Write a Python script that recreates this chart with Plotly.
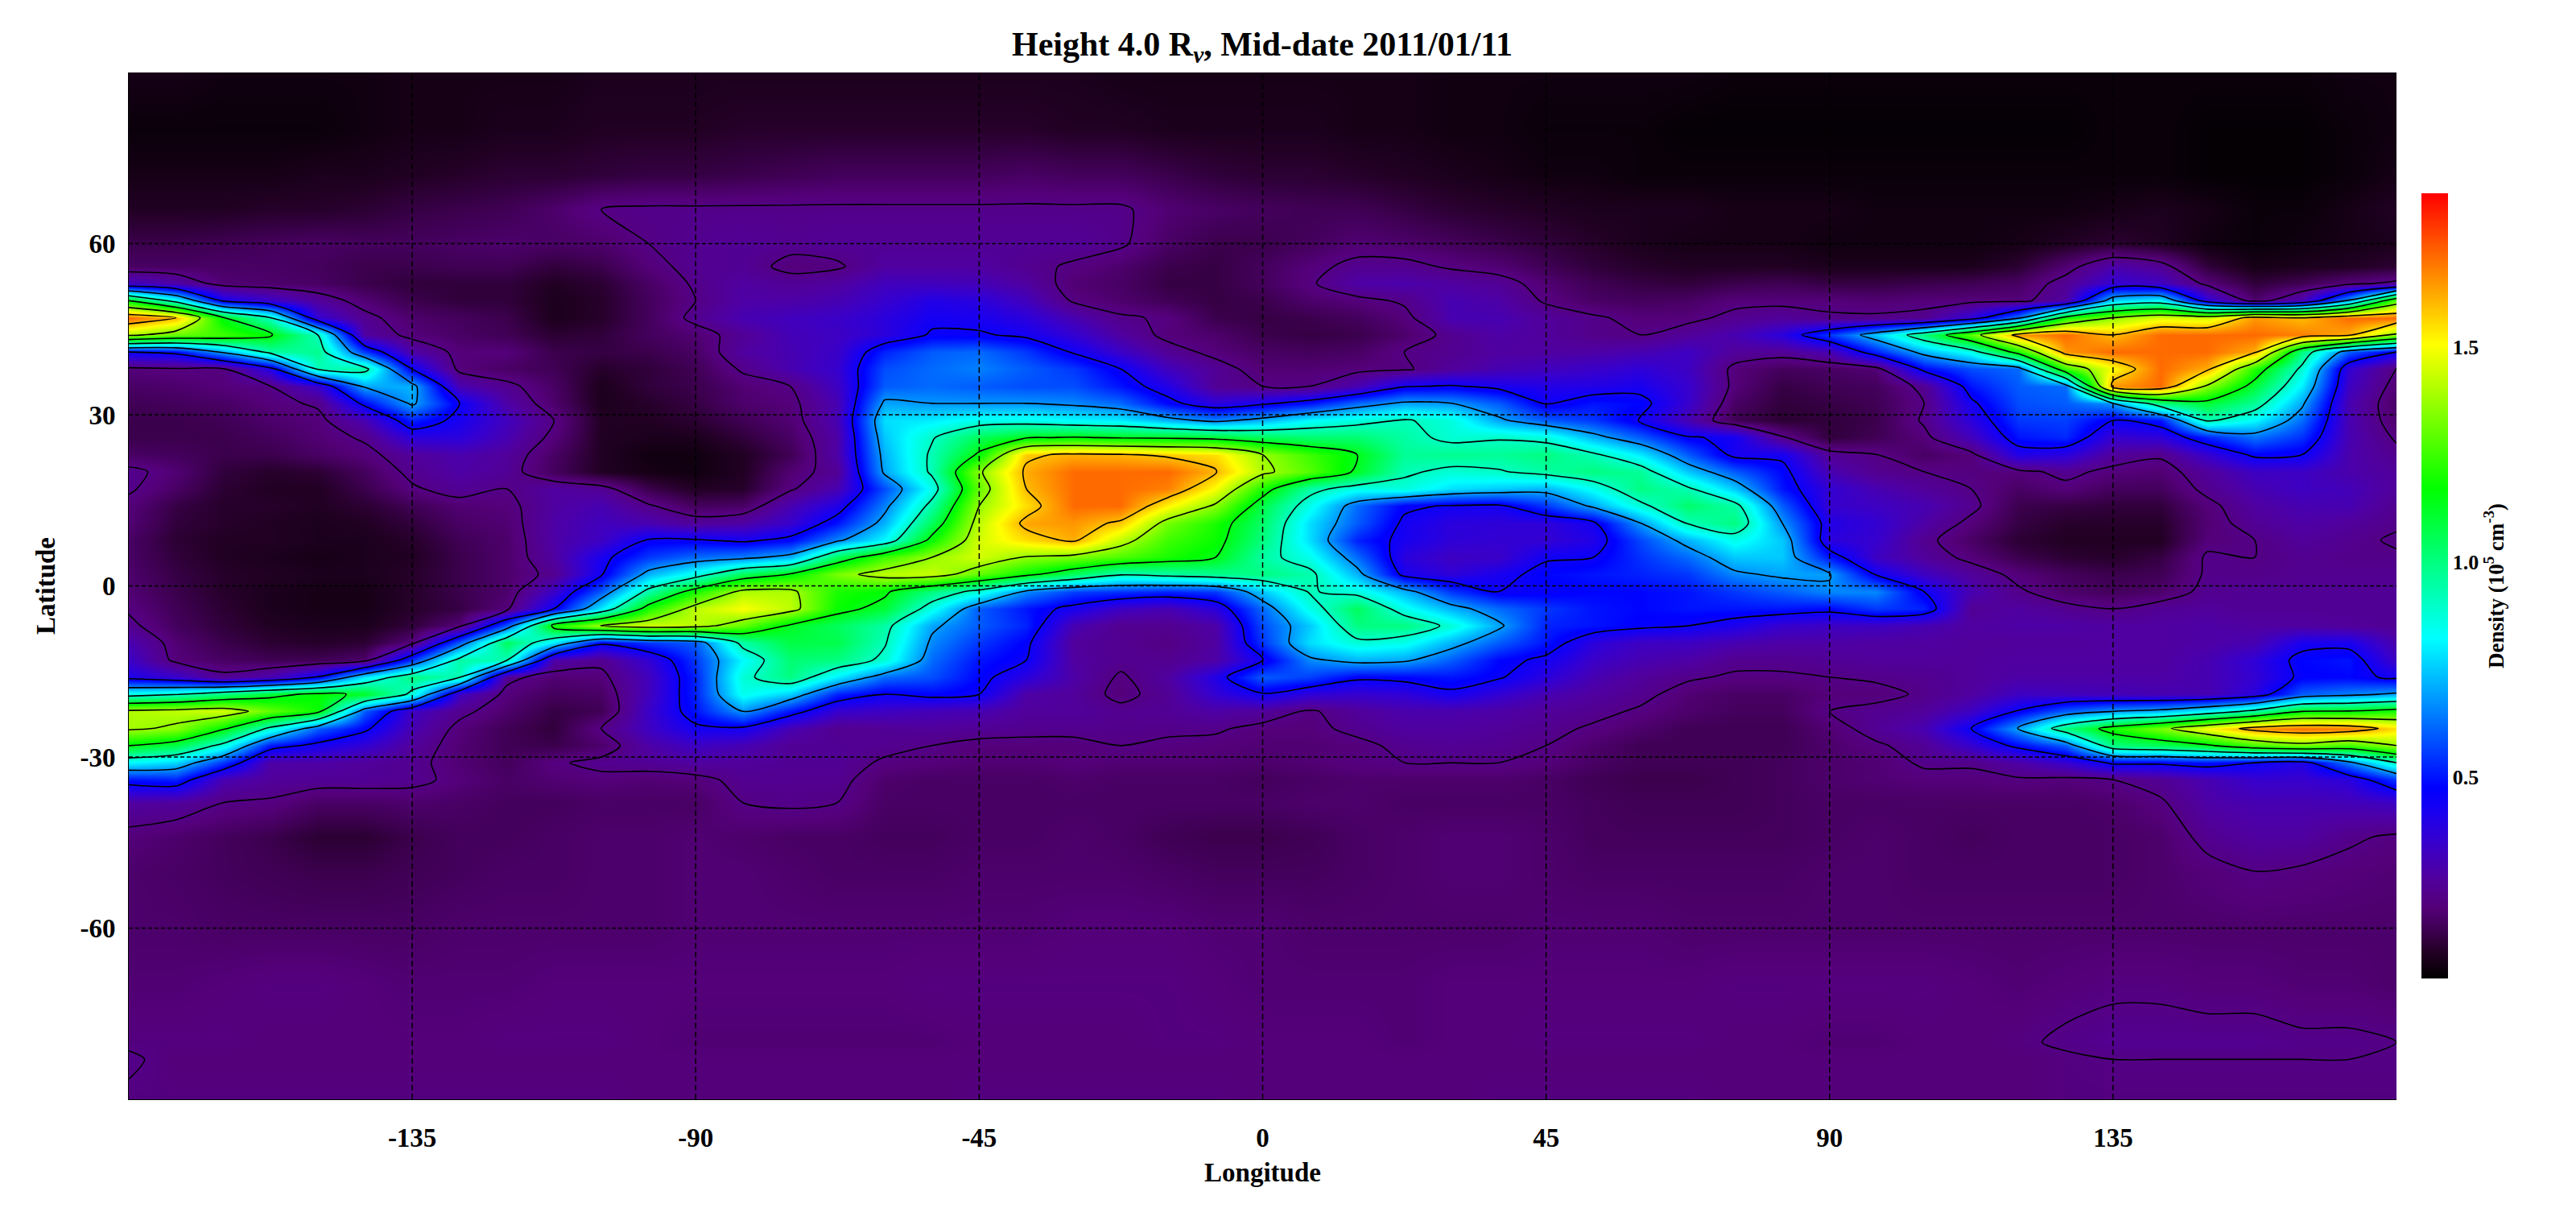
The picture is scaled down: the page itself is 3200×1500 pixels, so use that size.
import plotly.graph_objects as go

# Longitudes of the map columns (deg), latitudes of the map rows (deg)
longitudes = [-180,-172.5,-165,-157.5,-150,-142.5,-135,-127.5,-120,-112.5,-105,-97.5,-90,-82.5,-75,-67.5,
              -60,-52.5,-45,-37.5,-30,-22.5,-15,-7.5,0,7.5,15,22.5,30,37.5,45,52.5,
              60,67.5,75,82.5,90,97.5,105,112.5,120,127.5,135,142.5,150,157.5,165,172.5,180]
latitudes = [90,80,72,66,60,56,53,50,47,44,41,38,35,32,29,26,23,20,17,14,11,8,5,2,-1,-4,-7,-10,-13,-16,
             -19,-22,-25,-28,-31,-34,-38,-44,-50,-60,-70,-80,-83,-90]

# Density in units of 0.01 x 10^5 cm^-3, one list per latitude
lat_p90 = [7,7,6,6,6,6,7,7, 7,7,8,8,8,8,8,8, 8,8,8,8,8,7,7,7, 7,7,7,7,6,6,6,6, 6,6,5,5,5,5,5,5, 5,5,5,5,5,5,5,6, 6]
lat_p80 = [5,5,5,5,5,6,7,7, 8,8,9,9,9,10,10,10, 10,10,10,10,9,9,8,8, 8,8,7,7,6,6,5,5, 5,4,4,4,4,4,4,4, 4,4,5,5,4,4,4,5, 6]
lat_p72 = [7,7,7,7,8,8,9,10, 11,11,12,13,13,14,15,16, 16,16,16,17,16,16,14,12, 11,11,10,9,8,7,6,6, 5,5,5,5,5,5,5,5, 5,5,5,5,4,4,4,5, 7]
lat_p66 = [9,9,9,10,10,11,13,14, 15,18,22,23,23,23,23,23, 23,23,23,23,23,23,19,17, 16,15,15,13,11,10,9,8, 8,8,7,7,7,6,6,6, 6,6,7,8,7,5,5,7, 9]
lat_p60 = [14,14,15,16,17,16,16,17, 18,17,18,22,24,25,24,25, 25,25,25,25,25,23,17,14, 14,16,19,18,16,14,12,10, 8,7,7,7,6,6,6,6, 7,9,11,9,6,5,6,7, 8]
lat_p56 = [17,17,17,17,16,14,14,15, 15,12,14,20,24,25,20,21, 27,27,27,24,21,18,14,13, 16,20,24,24,21,19,15,12, 10,9,9,9,8,8,8,8, 11,19,29,25,12,7,8,9, 11]
lat_p53 = [33,28,19,18,17,14,12,12, 12,9,11,17,23,27,25,27, 32,32,31,27,19,17,13,13, 16,21,28,29,27,25,19,15, 13,12,14,15,13,13,14,15, 17,25,36,33,20,12,15,20, 24]
lat_p50 = [114,85,43,34,26,19,14,12, 12,8,10,16,22,28,28,30, 35,40,38,32,21,18,15,13, 14,18,20,23,30,28,21,17, 16,17,20,20,20,19,20,20, 20,27,76,82,38,18,30,70, 128]
lat_p47 = [171,160,115,91,36,24,18,16, 14,8,10,16,24,30,32,34, 38,43,42,38,30,23,21,14, 13,14,16,20,30,30,26,23, 20,20,24,26,23,23,24,38, 65,120,137,147,145,165,160,171, 171]
lat_p44 = [140,130,125,116,91,27,20,17, 15,11,12,16,19,25,31,33, 38,46,46,43,36,27,20,18, 14,13,14,18,24,28,26,23, 22,26,30,38,55,75,100,130, 165,171,160,171,171,171,168,162, 135]
lat_p41 = [45,48,70,95,98,55,28,20, 20,14,13,14,17,27,30,34, 52,60,62,55,44,34,25,20, 17,16,17,22,24,27,27,28, 30,33,26,25,30,52,72,85, 120,165,171,171,171,162,100,60, 45]
lat_p38 = [20,21,21,40,92,95,45,20, 17,15,10,12,15,23,30,35, 58,62,65,60,55,45,32,25, 19,19,20,21,26,30,32,34, 37,33,20,16,17,19,48,58, 62,125,150,171,162,122,88,36, 21]
lat_p35 = [17,18,20,22,34,70,72,30, 24,17,8,12,14,19,22,33, 60,62,60,58,58,50,40,25, 22,22,30,44,46,42,40,40, 42,35,20,13,15,16,24,50, 60,62,165,171,135,109,80,33, 19]
lat_p32 = [15,16,17,20,23,48,70,45, 28,18,8,10,13,18,20,30, 70,68,68,68,66,62,48,38, 43,50,62,70,68,60,44,50, 48,35,17,12,13,15,22,43, 58,60,68,100,110,97,70,30, 17]
lat_p29 = [14,14,15,18,20,30,52,42, 32,22,9,9,11,15,19,30, 78,80,85,85,82,80,72,65, 72,82,87,92,87,70,60,55, 44,30,15,11,12,14,23,38, 55,56,45,50,93,82,62,30, 18]
lat_p26 = [14,14,14,16,19,23,38,38, 30,20,9,8,8,12,17,28, 75,90,105,113,115,113,112,110, 105,102,102,95,88,90,87,72, 60,46,43,23,12,15,20,32, 50,53,35,37,52,63,54,30, 21]
lat_p23 = [17,16,14,14,17,20,26,29, 26,17,9,6,6,9,15,28, 72,93,116,158,162,161,158,155, 137,125,114,97,98,97,100,93, 80,60,42,43,25,22,17,20, 40,38,26,23,35,47,45,29, 24]
lat_p20 = [24,19,12,10,11,16,24,28, 25,16,9,7,6,9,19,25, 70,93,135,162,171,171,171,161, 140,128,112,93,88,90,95,100, 97,75,60,48,30,24,22,21, 20,24,20,19,26,33,33,29, 26]
lat_p17 = [23,17,11,9,9,14,21,25, 22,27,25,14,9,10,21,30, 58,85,130,160,171,171,168,150, 120,95,85,87,78,75,72,84, 100,93,75,50,36,30,26,22, 17,20,16,16,24,30,33,31, 26]
lat_p14 = [20,13,10,10,9,11,15,19, 20,27,30,23,16,17,30,40, 65,95,137,155,171,171,152,135, 107,85,62,47,44,43,55,70, 88,103,95,60,35,33,30,24, 14,13,12,12,20,27,30,30, 24]
lat_p11 = [19,12,10,9,8,9,12,17, 19,28,32,30,26,28,35,50, 72,105,142,163,165,158,132,120, 103,78,60,43,38,37,37,43, 68,92,100,68,40,36,28,20, 13,10,10,10,19,25,28,26, 23]
lat_p8 = [17,11,9,9,8,8,10,15, 18,28,33,46,46,43,48,66, 82,118,145,155,162,142,125,118, 100,78,52,42,37,36,36,40, 57,72,85,75,38,35,24,17, 11,9,9,9,20,22,26,24, 21]
lat_p5 = [17,12,9,8,7,8,9,14, 18,27,42,55,62,65,72,105, 125,137,145,136,133,127,120,114, 95,85,62,38,33,34,44,45, 54,62,75,75,50,33,26,20, 14,11,10,13,23,22,24,23, 23]
lat_p2 = [18,13,10,9,8,8,10,14, 18,24,44,72,85,105,115,133, 142,143,130,117,105,92,95,98, 100,94,72,42,37,42,48,50, 52,55,66,70,69,44,33,26, 20,16,14,15,23,23,24,24, 24]
lat_m1 = [19,14,10,8,7,7,10,14, 18,34,60,95,120,140,140,120, 116,100,87,66,56,54,52,55, 75,92,87,72,55,45,46,48, 48,50,55,60,66,66,45,30, 23,18,16,18,24,25,25,25, 25]
lat_m4 = [21,15,11,8,7,7,10,13, 20,45,80,120,142,150,142,118, 110,85,60,50,42,33,30,38, 62,85,105,85,72,62,55,50, 48,50,50,50,48,55,52,25, 27,24,22,25,26,25,25,25, 25]
lat_m7 = [24,16,12,9,8,8,12,20, 60,120,138,145,142,130,112,105, 95,70,60,52,30,24,24,28, 58,75,100,100,88,70,52,50, 47,45,41,35,33,33,30,27, 28,28,27,27,28,27,27,26, 25]
lat_m10 = [30,19,14,11,10,11,20,60, 105,80,47,55,60,95,108,107, 92,66,55,47,26,24,22,27, 55,78,88,85,72,60,50,38, 33,33,30,28,28,27,27,26, 26,26,27,27,28,30,42,42, 29]
lat_m13 = [34,20,17,15,15,18,55,95, 92,28,24,36,55,82,102,100, 88,62,50,45,27,24,24,28, 44,66,72,70,60,48,43,34, 30,28,24,24,25,26,26,26, 27,27,27,27,30,37,48,50, 33]
lat_m16 = [41,35,24,30,46,80,100,92, 24,19,20,32,52,88,100,80, 62,58,48,38,28,21,27,40, 60,56,47,48,50,46,38,30, 26,23,21,21,22,23,24,26, 28,28,28,28,30,36,47,48, 43]
lat_m19 = [85,90,100,110,117,112,88,33, 20,16,17,32,52,85,76,52, 45,48,45,28,26,20,25,36, 44,37,35,37,43,36,30,27, 24,19,17,17,20,20,23,27, 33,32,31,30,30,38,60,65, 70]
lat_m22 = [140,142,145,130,118,60,33,24, 18,13,15,34,50,68,50,35, 33,31,30,26,26,24,25,28, 26,21,26,29,29,28,26,24, 21,18,16,16,22,24,26,33, 46,60,68,72,82,95,114,115, 120]
lat_m25 = [139,135,116,88,60,47,30,20, 15,12,22,33,43,43,30,24, 25,26,25,24,24,23,23,23, 20,20,24,27,27,26,24,21, 18,15,15,15,19,25,30,45, 70,100,120,133,150,165,170,168, 155]
lat_m28 = [114,107,87,50,42,36,26,19, 15,14,18,28,33,30,25,25, 24,22,20,20,20,22,21,20, 19,19,20,24,25,24,22,18, 15,15,15,15,18,21,25,35, 48,60,100,105,112,125,132,125, 137]
lat_m31 = [82,77,55,28,28,26,24,19, 16,21,24,25,27,26,25,25, 21,20,19,19,20,19,19,19, 18,19,21,22,22,22,20,17, 15,15,15,16,18,19,23,23, 28,35,47,47,50,45,40,65, 91]
lat_m34 = [50,52,30,26,25,25,24,20, 17,19,20,19,20,24,24,24, 18,17,17,17,18,17,17,17, 16,17,18,18,18,18,17,15, 14,14,15,16,18,19,20,20, 21,20,22,25,30,35,35,38, 55]
lat_m38 = [27,26,22,21,17,17,18,17, 16,16,17,17,17,22,23,22, 17,17,17,17,17,17,17,17, 17,18,18,17,17,17,17,16, 15,15,15,16,17,17,17,17, 17,17,18,21,28,30,30,31, 33]
lat_m44 = [20,18,16,14,11,11,14,16, 16,17,18,18,19,18,17,17, 16,16,17,17,18,17,15,14, 14,15,17,18,19,19,18,16, 16,16,16,16,17,18,17,16, 17,17,17,18,24,27,27,23, 21]
lat_m50 = [18,17,16,15,14,14,15,16, 17,17,18,18,19,19,18,17, 17,17,18,18,18,18,17,16, 16,16,17,18,19,19,18,17, 17,17,17,17,18,18,17,17, 17,17,17,18,20,22,21,20, 19]
lat_m60 = [18,18,17,17,17,17,17,18, 18,18,18,18,19,19,19,19, 19,19,19,19,20,20,20,19, 19,18,18,18,18,18,19,19, 19,18,18,18,18,18,18,18, 18,18,18,18,18,18,18,18, 18]
lat_m70 = [19,19,20,21,21,20,19,19, 19,20,20,20,20,20,20,20, 20,21,21,21,21,21,21,20, 19,19,19,19,20,20,20,20, 20,20,21,21,21,21,21,20, 19,20,21,21,20,20,19,19, 18]
lat_m80 = [21,21,21,20,20,20,20,20, 21,21,21,20,19,19,19,19, 19,19,20,20,20,20,21,21, 20,20,20,19,20,20,21,21, 21,21,20,20,19,19,20,20, 21,23,24,24,24,24,23,23, 22]
lat_m83 = [23,20,20,20,20,20,20,20, 20,20,20,20,20,20,20,20, 20,20,20,20,20,20,20,20, 20,20,20,20,20,20,20,20, 20,20,20,20,20,20,20,20, 20,21,22,22,22,22,22,22, 22]
lat_m90 = [21,21,21,21,21,21,21,21, 21,21,21,20,20,20,20,20, 20,20,21,21,21,21,21,21, 20,20,20,20,20,21,21,21, 21,21,20,20,20,20,20,20, 20,21,21,21,21,21,21,21, 21]

density_rows = [lat_p90,lat_p80,lat_p72,lat_p66,lat_p60,lat_p56,lat_p53,lat_p50,lat_p47,lat_p44,lat_p41,lat_p38,
                lat_p35,lat_p32,lat_p29,lat_p26,lat_p23,lat_p20,lat_p17,lat_p14,lat_p11,lat_p8,lat_p5,lat_p2,
                lat_m1,lat_m4,lat_m7,lat_m10,lat_m13,lat_m16,lat_m19,lat_m22,lat_m25,lat_m28,lat_m31,lat_m34,
                lat_m38,lat_m44,lat_m50,lat_m60,lat_m70,lat_m80,lat_m83,lat_m90]
for i, r in enumerate(density_rows):
    assert len(r) == len(longitudes), (i, len(r))
assert len(density_rows) == len(latitudes)

lon_ticks = [-135,-90,-45,0,45,90,135]
lat_ticks = [-60,-30,0,30,60]
cbar_ticks = [0.5,1.0,1.5]
title_text = "<b>Height 4.0 R<sub><i>v</i></sub>, Mid-date 2011/01/11</b>"
x_title = "<b>Longitude</b>"
y_title = "<b>Latitude</b>"
cbar_title = "<b>Density (10<sup>5</sup> cm<sup>-3</sup>)</b>"

Z_MIN, Z_MAX = 0.033, 1.857
color_stops = [(0.033,(0,0,0)),(0.07,(22,0,22)),(0.10,(38,0,42)),(0.15,(64,0,85)),(0.20,(84,0,122)),(0.27,(80,0,160)),
               (0.35,(55,0,205)),(0.42,(25,0,240)),(0.476,(0,0,255)),(0.65,(0,128,255)),(0.823,(0,255,255)),
               (1.0,(0,255,128)),(1.17,(0,255,0)),(1.34,(128,255,0)),(1.506,(255,255,0)),(1.68,(255,128,0)),
               (1.857,(255,0,0))]
colorscale = [[(v-Z_MIN)/(Z_MAX-Z_MIN), "rgb(%d,%d,%d)" % c] for v, c in color_stops]

z = [[v/100 for v in row] for row in density_rows]
FONT = "Liberation Serif"

fig = go.Figure()
fig.add_trace(go.Heatmap(
    x=longitudes, y=latitudes, z=z, zsmooth="best", zmin=Z_MIN, zmax=Z_MAX, colorscale=colorscale,
    hoverinfo="skip",
    colorbar=dict(thickness=33, thicknessmode="pixels", len=975, lenmode="pixels",
                  x=3008/3200, xref="container", xanchor="left", y=0.5, yanchor="middle",
                  outlinewidth=0, ticks="", tickvals=cbar_ticks, ticktext=["%.1f" % t for t in cbar_ticks],
                  tickfont=dict(family=FONT, size=26, color="black", weight=700), ypad=0, xpad=0,
                  title=dict(text=cbar_title, side="right", font=dict(family=FONT, size=27, color="black")))))
fig.add_trace(go.Contour(
    x=longitudes, y=latitudes, z=z, showscale=False, hoverinfo="skip",
    autocontour=False, contours=dict(start=0.22, end=1.60, size=0.23, coloring="none"),
    line=dict(color="black", width=1.6, smoothing=0.8)))

shapes = []
for lon in lon_ticks:
    shapes.append(dict(type="line", xref="x", yref="paper", x0=lon, x1=lon, y0=0, y1=1,
                       line=dict(color="black", width=1.5, dash="7px,4px"), layer="above"))
for lat in lat_ticks:
    shapes.append(dict(type="line", xref="paper", yref="y", x0=0, x1=1, y0=lat, y1=lat,
                       line=dict(color="black", width=1.5, dash="5px,3px"), layer="above"))

fig.update_layout(
    width=3200, height=1500, autosize=False, paper_bgcolor="white", plot_bgcolor="white",
    margin=dict(l=160, r=223, t=90, b=135, autoexpand=False), shapes=shapes, showlegend=False,
    font=dict(family=FONT, color="black"),
    title=dict(text=title_text, x=1568/3200, xanchor="center", y=1-54/1500, yanchor="middle",
               font=dict(family=FONT, size=42, color="black")),
    xaxis=dict(range=[-180,180], tickvals=lon_ticks, ticktext=[str(t) for t in lon_ticks], showgrid=False, zeroline=False,
               ticks="outside", ticklen=18, tickcolor="rgba(0,0,0,0)", showline=True, linecolor="black", linewidth=1,
               tickfont=dict(family=FONT, size=33, color="black", weight=700),
               title=dict(text=x_title, font=dict(family=FONT, size=33, color="black"), standoff=14)),
    yaxis=dict(range=[-90,90], tickvals=lat_ticks, ticktext=[str(t) for t in lat_ticks], showgrid=False, zeroline=False,
               ticks="outside", ticklen=9, tickcolor="rgba(0,0,0,0)", showline=True, linecolor="black", linewidth=1,
               tickfont=dict(family=FONT, size=33, color="black", weight=700),
               title=dict(text=y_title, font=dict(family=FONT, size=33, color="black"), standoff=20)),
)
fig.write_html("out.html", config={"displayModeBar": False}, post_script="document.body.style.margin='0';")
